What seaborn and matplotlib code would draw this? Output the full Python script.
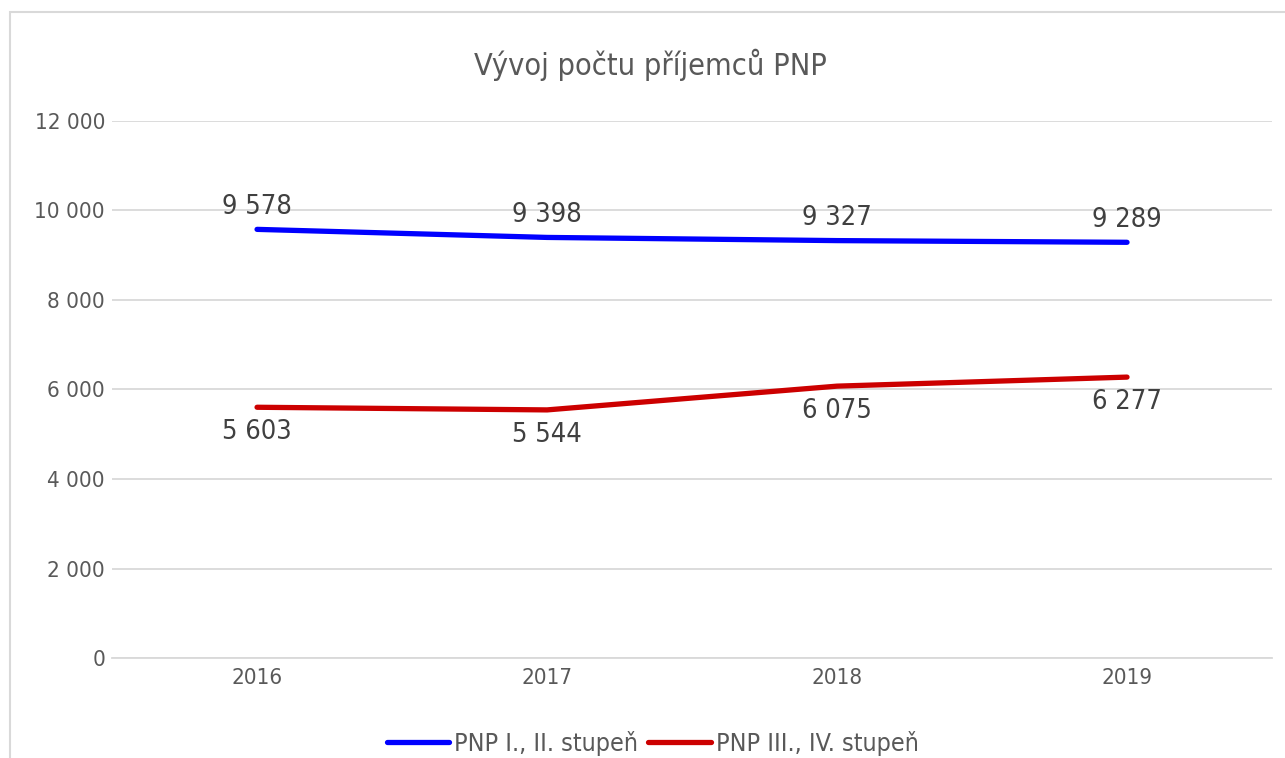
import matplotlib
matplotlib.use("Agg")
import matplotlib.pyplot as plt
import matplotlib.patches as patches
import seaborn as sns
import pandas as pd

# data
years = ["2016", "2017", "2018", "2019"]
stupen_1_2 = [9578, 9398, 9327, 9289]
stupen_3_4 = [5603, 5544, 6075, 6277]
series_names = ["PNP I., II. stupeň", "PNP III., IV. stupeň"]
y_ticks = [0, 2000, 4000, 6000, 8000, 10000, 12000]

sns.set_style("white")
plt.rcParams["font.family"] = ["DejaVu Sans"]
plt.rcParams["font.stretch"] = "condensed"

df = pd.DataFrame({
    "rok": years * 2,
    "pocet": stupen_1_2 + stupen_3_4,
    "serie": [series_names[0]] * 4 + [series_names[1]] * 4,
})

colors = {series_names[0]: "#0000FF", series_names[1]: "#CC0000"}

fig = plt.figure(figsize=(12.85, 7.58), dpi=100)
ax = fig.add_axes([0.0872, 0.1319, 0.9027, 0.7085])

sns.lineplot(data=df, x="rok", y="pocet", hue="serie", palette=colors,
             linewidth=3.8, ax=ax, sort=False, solid_capstyle="round")

ax.set_xlim(-0.5, 3.5)
ax.set_ylim(0, 12000)
ax.set_yticks(y_ticks)
ax.set_yticklabels([f"{v:,}".replace(",", " ") for v in y_ticks])
ax.grid(axis="y", color="#d9d9d9", linewidth=1.3)
ax.set_axisbelow(True)
for s in ["top", "right", "left"]:
    ax.spines[s].set_visible(False)
ax.spines["bottom"].set_color("#d9d9d9")
ax.spines["bottom"].set_linewidth(1.3)
ax.tick_params(axis="both", length=0, labelsize=16, labelcolor="#595959")
ax.tick_params(axis="y", pad=5)
ax.tick_params(axis="x", pad=7)
ax.set_xlabel("")
ax.set_ylabel("")

def fmt(v):
    return f"{v:,}".replace(",", " ")

for i, v in enumerate(stupen_1_2):
    ax.annotate(fmt(v), (i, v), xytext=(0, 16), textcoords="offset points",
                ha="center", va="center", fontsize=19.5, color="#404040")
for i, v in enumerate(stupen_3_4):
    ax.annotate(fmt(v), (i, v), xytext=(0, -18), textcoords="offset points",
                ha="center", va="center", fontsize=19.5, color="#404040")

fig.text(0.506, 1 - 65 / 758, "Vývoj počtu příjemců PNP", ha="center", va="center",
         fontsize=22, color="#595959")

handles, labels = ax.get_legend_handles_labels()
ax.get_legend().remove()
fig.legend(handles, labels, loc="center", bbox_to_anchor=(0.508, 1 - 743 / 758),
           ncol=2, frameon=False, fontsize=18, labelcolor="#595959",
           handlelength=2.5, handletextpad=0.2, columnspacing=0.4)

# outer chart border (cropped at right and bottom)
fig.patches.append(patches.Rectangle((10 / 1285, -0.1), 1.2, 1 - 12 / 758 + 0.1,
                                     transform=fig.transFigure, fill=False,
                                     edgecolor="#d9d9d9", linewidth=1.5))

fig.savefig("out.png", dpi=100)
